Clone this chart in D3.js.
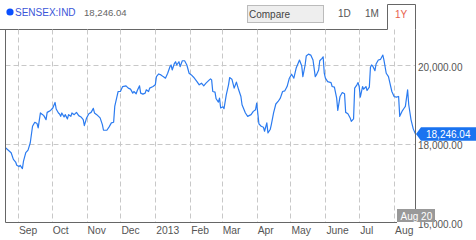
<!DOCTYPE html>
<html>
<head>
<meta charset="utf-8">
<script src="https://cdn.jsdelivr.net/npm/d3@7"></script>
<style>
  body { margin: 0; background: #fff; }
  svg { display: block; font-family: Arial, "Liberation Sans", sans-serif; }
</style>
</head>
<body>
<div id="chart"></div>
<script>
// SENSEX:IND, one year of closes
var ticker = "SENSEX:IND";
var lastClose = 18246.04;
var startDate = "2012-08-21";
var endDate = "2013-08-20";
var ranges = ["1D", "1M", "1Y"];
var monthLabels = ["Sep", "Oct", "Nov", "Dec", "2013", "Feb", "Mar", "Apr", "May", "June", "Jul", "Aug"];
var priceTicks = [16000, 18000, 20000];

// days since startDate
var dayOffsets = [0, 5, 7, 9, 10, 12, 13, 15, 16, 18, 20, 22, 24, 26, 28, 29, 31, 33, 34, 36,
  37, 40, 42, 44, 45, 47, 48, 49, 50, 52, 53, 55, 56, 58, 59, 61, 63, 65, 67, 69,
  70, 72, 74, 76, 78, 79, 81, 84, 86, 87, 90, 92, 94, 96, 97, 99, 100, 102, 104, 107,
  109, 111, 113, 114, 116, 117, 119, 120, 122, 124, 125, 127, 128, 131, 133, 134, 136, 138, 140, 142,
  144, 146, 147, 148, 150, 151, 152, 154, 155, 157, 159, 161, 163, 165, 167, 170, 172, 174, 176, 178,
  181, 182, 183, 184, 186, 187, 189, 190, 191, 193, 194, 196, 198, 199, 201, 203, 205, 207, 209, 210,
  213, 215, 218, 220, 222, 223, 225, 227, 229, 230, 232, 233, 235, 236, 238, 240, 242, 244, 246, 248,
  250, 252, 254, 256, 258, 261, 263, 264, 266, 267, 269, 271, 273, 275, 276, 278, 279, 281, 282, 283,
  284, 286, 289, 290, 292, 294, 295, 297, 299, 301, 302, 304, 306, 307, 309, 310, 312, 313, 314, 315,
  317, 318, 320, 321, 323, 324, 325, 326, 328, 329, 331, 333, 335, 336, 338, 340, 341, 343, 345, 347,
  349, 350, 352, 354, 355, 357, 358, 360, 362, 364];

var closeValues = [17900, 17773, 17604, 17536, 17453, 17420, 17453, 17370, 17561, 17773, 17839, 18025, 18444, 18545, 18512, 18404, 18782, 18739, 18714, 18613,
  18797, 18847, 18908, 19049, 18883, 18782, 18757, 18696, 18782, 18681, 18739, 18631, 18739, 18696, 18782, 18739, 18797, 18714, 18681, 18613,
  18462, 18656, 18764, 18797, 18898, 18782, 18739, 18656, 18487, 18343, 18343, 18429, 18530, 18545, 18948, 19201, 19327, 19327, 19453, 19470,
  19412, 19387, 19286, 19327, 19269, 19352, 19470, 19286, 19261, 19286, 19370, 19327, 19412, 19453, 19496, 19705, 19773, 19748, 19705, 19665,
  19791, 19957, 20000, 19874, 20043, 20083, 20000, 20083, 19957, 20108, 20108, 20000, 19791, 19748, 19690, 19579, 19496, 19538, 19470, 19538,
  19622, 19647, 19622, 19327, 19311, 19142, 19059, 19160, 18908, 18941, 18890, 19243, 19496, 19680, 19639, 19412, 19564, 19370, 19201, 18991,
  18782, 18696, 18739, 18822, 18865, 19034, 18504, 18444, 18419, 18318, 18530, 18277, 18361, 18487, 18782, 19009, 19074, 19160, 19327, 19344,
  19453, 19665, 19765, 19665, 19917, 20126, 19975, 19705, 20000, 20227, 20277, 20252, 20126, 19705, 19748, 19874, 20108, 20169, 20209, 19791,
  19665, 19579, 19554, 19453, 19438, 19160, 18847, 19201, 19301, 19269, 18797, 18764, 18656, 18570, 18631, 19412, 19496, 19554, 19453, 19185,
  19453, 19387, 19453, 19352, 19438, 19942, 20000, 19975, 19856, 20025, 20126, 20144, 20252, 20126, 19791, 19705, 19579, 19327, 19201, 19185,
  19201, 18696, 18822, 18908, 18948, 19370, 18991, 18613, 18378, 18246.04];

var W = 476, H = 240;
var plotL = 5.5, plotR = 415.5, plotT = 29.5, plotB = 222.5;

var parse = d3.timeParse("%Y-%m-%d");
var t0 = parse(startDate), t1 = parse(endDate);
var data = dayOffsets.map(function(d, i) {
  return { date: d3.timeDay.offset(t0, d), value: closeValues[i] };
});

var x = d3.scaleTime().domain([t0, t1]).range([plotL, plotR]);
var y = d3.scaleLinear().domain([16000, 20000]).range([plotB, 65]);

var svg = d3.select("#chart").append("svg").attr("width", W).attr("height", H);

svg.append("defs").append("clipPath").attr("id", "plot")
  .append("rect").attr("x", plotL).attr("y", plotT).attr("width", plotR - plotL).attr("height", plotB - plotT);

// header
svg.append("circle").attr("cx", 10).attr("cy", 12).attr("r", 3.6).style("fill", "#0a50ff");
svg.append("text").attr("x", 15).attr("y", 16).text(ticker)
  .style("font-size", "10px").style("fill", "#3a55d8");
svg.append("text").attr("x", 84).attr("y", 16).text(d3.format(",.2f")(lastClose))
  .style("font-size", "9.6px").style("fill", "#666");

svg.append("rect").attr("x", 247.5).attr("y", 5.5).attr("width", 76).attr("height", 17)
  .style("fill", "#eee").style("stroke", "#bbb");
svg.append("text").attr("x", 249).attr("y", 18).text("Compare")
  .style("font-size", "10px").style("fill", "#444");

var rangeX = [338, 365, 395];
svg.selectAll(".range").data(ranges).enter().append("text")
  .attr("x", function(d, i) { return rangeX[i]; })
  .attr("y", function(d, i) { return i == 2 ? 17.5 : 16.5; })
  .text(function(d) { return d; })
  .style("font-size", "10px")
  .style("fill", function(d, i) { return i == 2 ? "#e8604c" : "#555"; });

svg.append("path")
  .attr("d", "M0," + plotT + "H387.5V4.5H" + plotR + "V" + plotT)
  .style("fill", "none").style("stroke", "#666");

// grid
var months = d3.timeMonth.range(d3.timeMonth.ceil(t0), t1);
svg.selectAll(".vgrid").data(months).enter().append("line")
  .attr("x1", function(d) { return Math.round(x(d)) + 0.5; })
  .attr("x2", function(d) { return Math.round(x(d)) + 0.5; })
  .attr("y1", plotT).attr("y2", plotB)
  .style("stroke", "#c8c8c8").style("stroke-dasharray", "5,3");

svg.selectAll(".hgrid").data(priceTicks.slice(1)).enter().append("line")
  .attr("x1", plotL).attr("x2", plotR)
  .attr("y1", function(d) { return Math.round(y(d)) + 0.5; })
  .attr("y2", function(d) { return Math.round(y(d)) + 0.5; })
  .style("stroke", "#c8c8c8").style("stroke-dasharray", "5,3");

// x labels
svg.selectAll(".mlab").data(months).enter().append("text")
  .attr("x", function(d) { return x(d) + 1; })
  .attr("y", 234)
  .text(function(d, i) { return monthLabels[i]; })
  .style("font-size", "10.3px").style("fill", "#555");

// y labels
svg.selectAll(".ylab").data(priceTicks).enter().append("text")
  .attr("x", 418).attr("y", function(d) { return y(d) + 5.5; })
  .text(function(d) { return d3.format(",.2f")(d); })
  .style("font-size", "10px").style("fill", "#555");

// price line
var line = d3.line().x(function(d) { return x(d.date); }).y(function(d) { return y(d.value); });
svg.append("path").datum(data).attr("clip-path", "url(#plot)")
  .attr("d", line)
  .style("fill", "none").style("stroke", "#2b7bf0").style("stroke-width", 1.2)
  .style("stroke-linejoin", "round");

// frame
svg.append("path")
  .attr("d", "M" + plotL + "," + plotT + "V" + plotB + "H397")
  .style("fill", "none").style("stroke", "#666");
svg.append("line").attr("x1", plotR).attr("x2", plotR).attr("y1", plotT).attr("y2", 209)
  .style("stroke", "#666");

// last value tag
var ly = y(lastClose);
svg.append("path")
  .attr("d", "M" + (plotR + 0.5) + "," + ly + "L421," + (ly - 6.7) + "H476V" + (ly + 6.7) + "H421Z")
  .style("fill", "#1a73f0");
svg.append("text").attr("x", 426).attr("y", ly + 3.8).text(d3.format(",.2f")(lastClose))
  .style("font-size", "10px").style("fill", "#fff");

// date tag
svg.append("rect").attr("x", 397).attr("y", 209).attr("width", 38).attr("height", 13)
  .style("fill", "#999");
svg.append("text").attr("x", 400.5).attr("y", 219.5).text(d3.timeFormat("%b %-d")(t1))
  .style("font-size", "10px").style("fill", "#fff");
</script>
</body>
</html>
